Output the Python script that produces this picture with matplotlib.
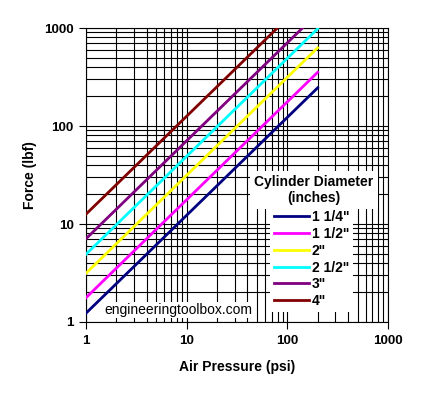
import matplotlib.pyplot as plt

pressure = [1, 200]
labels = ['1 1/4"', '1 1/2"', '2"', '2 1/2"', '3"', '4"']
colors = ['#000080', '#ff00ff', '#ffff00', '#00ffff', '#800080', '#800000']
force_1_25 = [1.23, 245]
force_1_5 = [1.77, 353]
force_2 = [3.14, 628]
force_2_5 = [4.91, 982]
force_3 = [7.07, 1414]
force_4 = [12.6, 2513]
forces = [force_1_25, force_1_5, force_2, force_2_5, force_3, force_4]

plt.rcParams['font.family'] = ['Liberation Sans', 'DejaVu Sans']

fig = plt.figure(figsize=(4.23, 3.98), dpi=100)
ax = fig.add_axes([86/423, 76/398, 302/423, 294/398])

for f, lab, c in zip(forces, labels, colors):
    ax.plot(pressure, f, color=c, lw=2.0, label=lab, zorder=3)

ax.set_xscale('log')
ax.set_yscale('log')
ax.set_xlim(1, 1000)
ax.set_ylim(1, 1000)
ax.grid(True, which='both', color='black', lw=0.8)
for s in ax.spines.values():
    s.set_color('black')
    s.set_linewidth(0.8)
ax.tick_params(which='major', length=5, width=0.8, direction='out', labelsize=9.7, pad=4)
ax.tick_params(which='minor', length=0)
ax.set_xticks([1, 10, 100, 1000], ['1', '10', '100', '1000'], fontweight='bold')
ax.set_yticks([1, 10, 100, 1000], ['1', '10', '100', '1000'], fontweight='bold')
ax.set_xlabel('Air Pressure (psi)', fontsize=10, fontweight='bold', labelpad=10)
ax.set_ylabel('Force (lbf)', fontsize=10, fontweight='bold', labelpad=5)

fig.text(104/423, 1-310/398, 'engineeringtoolbox.com', fontsize=10, va='center', ha='left',
         zorder=4, bbox=dict(facecolor='white', edgecolor='none', pad=1))

fig.text(314/423, 1-190/398, 'Cylinder Diameter\n(inches)', ha='center', va='center',
         fontsize=10, fontweight='bold', linespacing=1.1, zorder=5,
         bbox=dict(facecolor='white', edgecolor='none', pad=3))

leg = fig.legend(loc='upper left', bbox_to_anchor=(270/423, 1-206/398), frameon=True,
                 fancybox=False, framealpha=1, edgecolor='none', facecolor='white',
                 prop={'size': 10, 'weight': 'bold'}, handlelength=2.5, handletextpad=0.2,
                 labelspacing=0.2, borderpad=0.3, borderaxespad=0)
for line in leg.get_lines():
    line.set_linewidth(2.0)

fig.savefig('out.png', dpi=100)
